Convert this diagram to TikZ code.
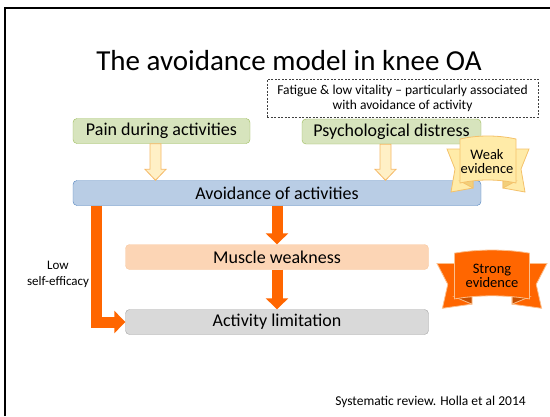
\documentclass[tikz,border=0pt]{standalone}
\usepackage{fontspec}
\setmainfont{Carlito}
\usetikzlibrary{positioning, arrows.meta, calc}

\definecolor{greenfill}{HTML}{D7E4BD}
\definecolor{greenline}{HTML}{9BBB59}
\definecolor{bluefill}{HTML}{B9CDE5}
\definecolor{blueline}{HTML}{4F81BD}
\definecolor{peachfill}{HTML}{FCD5B5}
\definecolor{peachline}{HTML}{F8C9A0}
\definecolor{greyfill}{HTML}{D9D9D9}
\definecolor{greyline}{HTML}{A6A6A6}
\definecolor{strongorange}{HTML}{FF6600}
\definecolor{creamfill}{HTML}{FFF0C6}
\definecolor{creamline}{HTML}{F5B865}
\definecolor{weakfill}{HTML}{FFEBA8}
\definecolor{weakline}{HTML}{F4C16A}
\definecolor{weakfold}{HTML}{F2CF7A}
\definecolor{strongline}{HTML}{FBBF8C}
\definecolor{strongfold}{HTML}{C85000}

\begin{document}
\begin{tikzpicture}[
		x=1pt,
		y=-1pt,
		box/.style={draw, rounded corners=4pt, minimum height=25pt, inner sep=0pt, font=\fontsize{18}{20}\selectfont},
		strongarrow/.style={draw=strongorange, line width=11pt, -{Triangle[width=22pt, length=11pt]}},
		feedarrow/.style={draw=creamline, fill=creamfill, line width=0.8pt, line join=miter},
		tag/.style={align=center, inner sep=1pt, font=\fontsize{14.5}{14}\selectfont},
		pics/ribbon/.style={code={
			% tails
			\path[pic actions] (-20,-11) -- (-41,-11) -- (-33,9) -- (-37,32) -- (-15,28) -- (-15,20) -- cycle;
			\path[pic actions] (20,-11) -- (41,-11) -- (33,9) -- (37,32) -- (15,28) -- (15,20) -- cycle;
			% folds
			\path[pic actions, fill=#1] (-28,21) -- (-15,28) -- (-15,21) -- cycle;
			\path[pic actions, fill=#1] (28,21) -- (15,28) -- (15,21) -- cycle;
			% front
			\path[pic actions] (-28,-21) .. controls (-10,-25) and (10,-25) .. (28,-21) -- (28,23) .. controls (10,19) and (-10,19) .. (-28,23) -- cycle;
		}}
		]
		\useasboundingbox (0,0) rectangle (550,416);
		
		% Slide frame
		\draw[line width=2pt] (5,416) -- (5,8) -- (550,8);
		
		% Title
		\node[font=\fontsize{29}{32}\selectfont, anchor=base] (title) at (289,70.5) {The avoidance model in knee OA};
		\node[draw=darkgray, dash pattern=on 2pt off 1.5pt, line width=0.8pt, minimum width=271pt, minimum height=38pt, inner sep=0pt, align=center, font=\fontsize{13.5}{15}\selectfont] (fatigue) at (402.5,98) {Fatigue \& low vitality -- particularly associated\\with avoidance of activity};
		
		% Boxes
		\node[box, fill=greenfill, draw=greenline, minimum width=177pt] (pain) at (161.5,131) {Pain during activities};
		\node[box, fill=greenfill, draw=greenline, minimum width=179pt] (psych) at (391.5,131.5) {Psychological distress};
		\node[box, fill=bluefill, draw=blueline, minimum width=408pt] (avoid) at (277,193) {Avoidance of activities};
		\node[box, fill=peachfill, draw=peachline, minimum width=303pt] (muscle) at (277,257) {Muscle weakness};
		\node[box, fill=greyfill, draw=greyline, minimum width=303pt] (limit) at (277,322) {Activity limitation};
		
		% Weak links
		\foreach \src in {pain, psych} {
			\coordinate (top) at ($(\src.south)+(-6,0)$);
			\coordinate (tip) at (top |- avoid.north);
			\draw[feedarrow] ([xshift=-5.5pt]top) -- ([xshift=-5.5pt, yshift=11pt]tip) -- ([xshift=-10.5pt, yshift=11pt]tip) -- (tip) -- ([xshift=10.5pt, yshift=11pt]tip) -- ([xshift=5.5pt, yshift=11pt]tip) -- ([xshift=5.5pt]top) -- cycle;
		}
		
		% Strong links
		\draw[strongarrow] (avoid.south) -- (muscle.north);
		\draw[strongarrow] (muscle.south) -- (limit.north);
		\draw[strongarrow] ([xshift=24pt]avoid.south west) |- (limit.west);
		\node[align=center, font=\fontsize{13}{16}\selectfont] (efficacy) at (58,274) {Low\\self-efficacy};
		
		% Evidence ribbons
		\pic[draw=weakline, fill=weakfill, line width=0.8pt] at (488,160) {ribbon=weakfold};
		\node[tag] (weak) at (487,161.5) {Weak\\evidence};
		\pic[draw=strongline, fill=strongorange, line width=0.8pt, xscale=1.34, yscale=1.04] at (492,275) {ribbon=strongfold};
		\node[tag] (strong) at (492,276) {Strong\\evidence};
		
		% Source
		\node[font=\fontsize{13.5}{16}\selectfont] (source) at (430.5,402) {Systematic review. Holla et al 2014};
	\end{tikzpicture}
\end{document}
